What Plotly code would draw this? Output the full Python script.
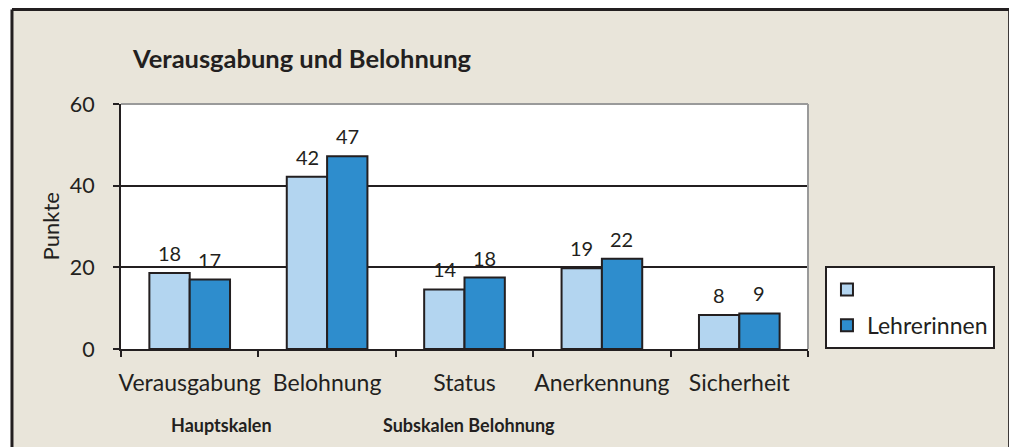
import plotly.graph_objects as go

categories = ["Verausgabung", "Belohnung", "Status", "Anerkennung", "Sicherheit"]
series_light_name = " "
series_dark_name = "Lehrerinnen"
light_values = [18.6, 42.2, 14.6, 19.8, 8.3]
dark_values = [17.0, 47.2, 17.5, 22.1, 8.7]
light_labels = ["18", "42", "14", "19", "8"]
dark_labels = ["17", "47", "18", "22", "9"]
y_ticks = [0, 20, 40, 60]

LIGHT = "#B3D5F0"
DARK = "#2E8DCD"
INK = "#231F20"
BEIGE = "#E9E5DA"
FONT = "Lato"

fig = go.Figure()
fig.add_trace(go.Bar(x=categories, y=light_values, name=series_light_name,
                     marker=dict(color=LIGHT, line=dict(color=INK, width=2)),
                     legendgroup="a"))
fig.add_trace(go.Bar(x=categories, y=dark_values, name=series_dark_name,
                     marker=dict(color=DARK, line=dict(color=INK, width=2)),
                     legendgroup="b"))

annotations = []
for cat, v, t in zip(categories, light_values, light_labels):
    annotations.append(dict(x=cat, y=v, text=t, xshift=-20, yshift=6, showarrow=False,
                            xanchor="center", yanchor="bottom",
                            font=dict(family=FONT, size=20, color=INK)))
for cat, v, t in zip(categories, dark_values, dark_labels):
    annotations.append(dict(x=cat, y=v, text=t, xshift=20, yshift=6, showarrow=False,
                            xanchor="center", yanchor="bottom",
                            font=dict(family=FONT, size=20, color=INK)))

annotations += [
    dict(text="<b>Verausgabung und Belohnung</b>", xref="paper", yref="paper", x=0.2635, y=1.188,
         xanchor="center", yanchor="middle",
         showarrow=False, font=dict(family=FONT, size=25.5, color=INK)),
    dict(text="Punkte", xref="paper", yref="paper", x=-0.102, y=0.5, textangle=-90,
         xanchor="center", yanchor="middle",
         showarrow=False, font=dict(family=FONT, size=22, color=INK)),
    dict(text="<b>Hauptskalen</b>", xref="paper", yref="paper", x=0.1463, y=-0.31,
         xanchor="center", yanchor="middle",
         showarrow=False, font=dict(family=FONT, size=18, color=INK)),
    dict(text="<b>Subskalen Belohnung</b>", xref="paper", yref="paper", x=0.5066, y=-0.31,
         xanchor="center", yanchor="middle",
         showarrow=False, font=dict(family=FONT, size=18, color=INK)),
]

FX0, FX1, FY0, FY1 = -0.1587, 1.2935, -0.45, 1.386
shapes = [
    dict(type="rect", xref="paper", yref="paper", x0=FX0, x1=FX1, y0=FY0, y1=FY1,
         fillcolor=BEIGE, line=dict(width=0), layer="below"),
    dict(type="rect", xref="paper", yref="paper", x0=0, x1=1, y0=0, y1=1,
         fillcolor="white", line=dict(width=0), layer="below"),
    dict(type="line", xref="paper", yref="paper", x0=0, x1=1, y0=1, y1=1,
         line=dict(color="#9A9A9A", width=2), layer="above"),
    dict(type="line", xref="paper", yref="paper", x0=1, x1=1, y0=0, y1=1,
         line=dict(color="#9A9A9A", width=2), layer="above"),
    # outer frame
    dict(type="line", xref="paper", yref="paper", x0=FX0, x1=FX0, y0=FY0, y1=FY1,
         line=dict(color=INK, width=3), layer="above"),
    dict(type="line", xref="paper", yref="paper", x0=FX1, x1=FX1, y0=FY0, y1=FY1,
         line=dict(color=INK, width=3), layer="above"),
    dict(type="line", xref="paper", yref="paper", x0=FX0, x1=FX1, y0=FY1, y1=FY1,
         line=dict(color=INK, width=3), layer="above"),
]

# the page body adds an 8px offset, so margins are reduced by 8px on top/left
fig.update_layout(
    width=1017, height=447,
    margin=dict(l=113, r=217, t=96, b=106, autoexpand=False),
    paper_bgcolor="white", plot_bgcolor="rgba(0,0,0,0)",
    barmode="group", bargap=0.413, bargroupgap=0,
    font=dict(family=FONT, color=INK),
    showlegend=True,
    legend=dict(x=1.0247, y=0.339, xanchor="left", yanchor="top",
                bgcolor="white", bordercolor=INK, borderwidth=2,
                font=dict(family=FONT, size=23, color=INK),
                traceorder="grouped", tracegroupgap=3),
    annotations=annotations, shapes=shapes,
)
fig.update_xaxes(type="category", showline=True, linecolor=INK, linewidth=2, automargin=False,
                 ticks="outside", tickson="boundaries", ticklen=6, tickwidth=2, tickcolor=INK,
                 tickangle=0,
                 tickfont=dict(family=FONT, size=23, color=INK), ticklabelstandoff=12,
                 showgrid=False)
fig.update_yaxes(range=[0, 60], tickvals=y_ticks, showline=True, linecolor=INK, linewidth=2,
                 automargin=False,
                 ticks="outside", ticklen=6, tickwidth=2, tickcolor=INK,
                 tickfont=dict(family=FONT, size=21.5, color=INK), ticklabelstandoff=14,
                 showgrid=True, gridcolor=INK, gridwidth=1.5, zeroline=False)

fig.write_html("out.html")
